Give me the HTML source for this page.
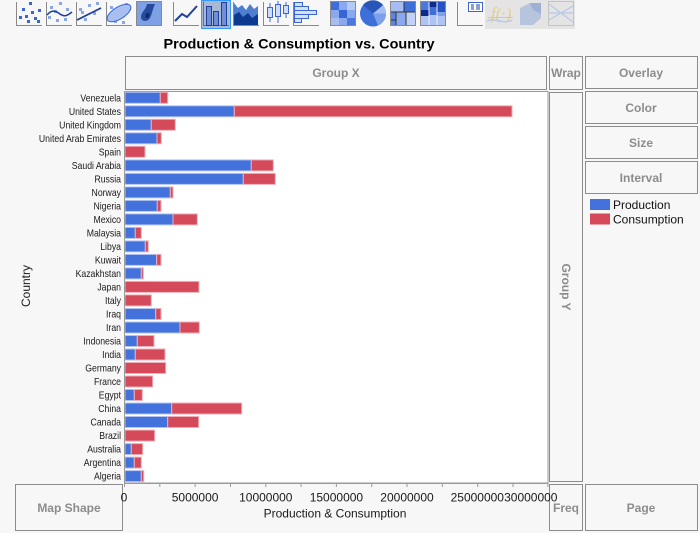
<!DOCTYPE html>
<html><head><meta charset="utf-8"><style>
html,body{margin:0;padding:0;background:#f7f7f7;}
svg{display:block;font-family:"Liberation Sans",Arial,sans-serif;}
</style></head><body>
<svg width="700" height="533" viewBox="0 0 700 533" xmlns="http://www.w3.org/2000/svg">
<rect width="700" height="533" fill="#f7f7f7"/>

<!-- Toolbar -->
<g stroke="#8a8a8a" stroke-width="1" fill="none">
<path d="M16.5 2V25.5H42"/><path d="M46.5 2V25.5H72"/><path d="M76.5 2V25.5H102"/><path d="M106.5 2V25.5H132"/>
<path d="M173.5 2V25.5H199"/><path d="M233.5 2V25.5H259"/><path d="M263.5 2V25.5H289"/><path d="M293.5 2V25.5H319"/>
<path d="M457.5 2V25.5H483"/>
</g>
<g fill="#3b66d0">
<rect x="29" y="2" width="3" height="3"/><rect x="22" y="8" width="3" height="3"/><rect x="31" y="11" width="3" height="3"/><rect x="38" y="9" width="3" height="3"/><rect x="25" y="15" width="3" height="3"/><rect x="34" y="17" width="3" height="3"/><rect x="19" y="16" width="3" height="3"/><rect x="27" y="20" width="3" height="3"/><rect x="37" y="20" width="3" height="3"/>
</g>
<g fill="#8aa6e6">
<rect x="59" y="2" width="3" height="3"/><rect x="50" y="6" width="3" height="3"/><rect x="66" y="8" width="3" height="3"/><rect x="48" y="16" width="3" height="3"/><rect x="56" y="19" width="3" height="3"/><rect x="64" y="18" width="3" height="3"/><rect x="54" y="10" width="3" height="3"/>
<rect x="88" y="4" width="3" height="3"/><rect x="81" y="11" width="3" height="3"/><rect x="93" y="12" width="3" height="3"/><rect x="84" y="18" width="3" height="3"/><rect x="96" y="2" width="3" height="3"/><rect x="79" y="8" width="3" height="3"/>
<rect x="110" y="6" width="3" height="3"/><rect x="125" y="3" width="3" height="3"/><rect x="114" y="20" width="3" height="3"/><rect x="122" y="21" width="3" height="3"/>
</g>
<path d="M47 15 C52 9,56 11,60 14 S67 16,72 12" stroke="#1f3f99" stroke-width="1.5" fill="none"/>
<path d="M77 20 L101 8" stroke="#1f3f99" stroke-width="1.8"/>
<ellipse cx="119" cy="13" rx="13.5" ry="6" transform="rotate(-32 119 13)" fill="#a9bff0" stroke="#3b66d0" stroke-width="1"/>
<rect x="136.5" y="1.5" width="25" height="24" fill="#7ea0e4" stroke="#8a8a8a"/>
<path d="M147 4 C146 10,141 12,141 17 C141 22,148 22,150 18 C152 14,153 8,155 4Z" fill="#274a9c"/>
<path d="M147 13 C145 15,145 18,147 18 C149 18,150 15,149 13Z" fill="#0e2a6a"/>
<polyline points="175,21 182,14 187,17 197,6" stroke="#1f3f99" stroke-width="2" fill="none"/>
<rect x="201.5" y="0.5" width="29" height="28" fill="#a9b8d6" stroke="#3399ff"/>
<path d="M203.5 1.5V25.5H229" stroke="#6a6a8a" fill="none"/>
<rect x="206.5" y="6.5" width="5" height="19" fill="#6f8fd6" stroke="#1f3f99"/>
<rect x="213.5" y="11.5" width="5" height="14" fill="#6f8fd6" stroke="#1f3f99"/>
<rect x="221.5" y="2.5" width="5" height="23" fill="#6f8fd6" stroke="#1f3f99"/>
<path d="M234 3 L238 8 L242 5 L246 10 L250 4 L254 9 L258 6 V25 H234Z" fill="#4f7ed0"/>
<path d="M234 15 L239 12 L243 17 L248 13 L252 18 L258 14 V25 H234Z" fill="#0b3a8f"/>
<g stroke="#3b66d0" fill="#cfdcf8">
<rect x="267.5" y="7.5" width="5" height="10"/><rect x="275.5" y="4.5" width="5" height="12"/><rect x="283.5" y="5.5" width="5" height="8"/>
<path d="M270 3V7.5M270 17.5V22M278 1V4.5M278 16.5V23M286 2V5.5M286 13.5V18" fill="none"/>
</g>
<g fill="#d5e0fa" stroke="#3b66d0">
<rect x="294.5" y="2.5" width="8" height="4"/><rect x="294.5" y="6.5" width="14" height="4"/><rect x="294.5" y="10.5" width="22" height="4"/><rect x="294.5" y="14.5" width="14" height="4"/><rect x="294.5" y="18.5" width="7" height="4"/>
</g>
<rect x="330.5" y="1.5" width="25" height="24" fill="#8aa8ee" stroke="#8a8a8a"/>
<rect x="331" y="2" width="8" height="8" fill="#3e6fd8"/><rect x="347" y="2" width="8" height="8" fill="#b6c9f5"/><rect x="339" y="10" width="8" height="8" fill="#3566d2"/><rect x="331" y="18" width="8" height="7" fill="#a6bcf2"/><rect x="347" y="18" width="8" height="7" fill="#4a78dc"/>
<circle cx="373" cy="13.5" r="13" fill="#3c6fd8"/>
<path d="M373 13.5 L386 13.5 A13 13 0 0 1 378 25.5Z" fill="#7ea0ea"/>
<path d="M373 13.5 L383 5 A13 13 0 0 1 386 13.5Z" fill="#a6bff2"/>
<path d="M373 13.5 L363 5 A13 13 0 0 1 383 5Z" fill="#2a55b8"/>
<rect x="390.5" y="1.5" width="25" height="24" fill="#6f96e6" stroke="#8a8a8a"/>
<rect x="391" y="2" width="13" height="10" fill="#a6bcf2"/><rect x="404" y="2" width="11" height="10" fill="#3e6fd8"/><rect x="391" y="12" width="5" height="13" fill="#5a85e0"/><rect x="396" y="12" width="10" height="13" fill="#8aa8ee"/><rect x="406" y="12" width="9" height="13" fill="#c2d2f6"/>
<path d="M391 20H396M391 12H415M404 2V12M396 12V25M406 12V25" stroke="#333" stroke-width="1"/>
<rect x="420.5" y="1.5" width="25" height="24" fill="#b0c4f4" stroke="#8a8a8a"/>
<rect x="421" y="2" width="8" height="8" fill="#4a78dc"/><rect x="421" y="10" width="8" height="6" fill="#0e2a8a"/><rect x="429" y="2" width="8" height="5" fill="#0e2a8a"/><rect x="429" y="7" width="8" height="8" fill="#3e6fd8"/><rect x="437" y="2" width="8" height="10" fill="#2452c4"/><rect x="437" y="12" width="8" height="4" fill="#7ea0ea"/>
<path d="M429 2V25M437 2V25" stroke="#e8eefc" stroke-width="1"/>
<rect x="468.5" y="2.5" width="14" height="9" fill="#fff" stroke="#3b66d0"/>
<path d="M471 5H474M476 5H480M471 7H474M476 7H480M471 9H474M476 9H480" stroke="#1f3f99"/>
<rect x="485" y="0" width="90" height="29" fill="#e4e4e4"/>
<text x="491" y="19" font-family="Liberation Serif,serif" font-style="italic" font-size="17" fill="#e3cf8a">f(·)</text>
<path d="M487 21 C495 17,503 25,512 20" stroke="#b8c8e6" stroke-width="1.5" fill="none"/>
<path d="M488 17.5H513" stroke="#b8c8e6"/>
<path d="M520 8 L530 3 L541 3 L541 18 L533 25 L520 25 Z" fill="#b7c4de"/>
<path d="M530 3 L541 3 L541 14 L533 10 Z" fill="#9fb0d4"/>
<rect x="548.5" y="1.5" width="25" height="24" fill="none" stroke="#c4c4c4"/>
<path d="M549 4 L573 22 M549 20 L573 6 M549 13 L573 13" stroke="#b8c8e6" stroke-width="1.2"/>

<!-- Title -->
<text x="299" y="48.5" font-size="14" font-weight="bold" fill="#000" text-anchor="middle" textLength="271" lengthAdjust="spacingAndGlyphs">Production &amp; Consumption vs. Country</text>

<!-- Drop zones -->
<g fill="#f7f7f7" stroke="#8c8c8c" stroke-width="1">
<rect x="125.5" y="56.5" width="421" height="33"/>
<rect x="549.5" y="56.5" width="33" height="33"/>
<rect x="585.5" y="56.5" width="112" height="32"/>
<rect x="585.5" y="91.5" width="112" height="32"/>
<rect x="585.5" y="126.5" width="112" height="32"/>
<rect x="585.5" y="161.5" width="112" height="32"/>
<rect x="549.5" y="92.5" width="33" height="389"/>
<rect x="15.5" y="484.5" width="107" height="46"/>
<rect x="549.5" y="484.5" width="33" height="46"/>
<rect x="585.5" y="484.5" width="112" height="46"/>
</g>
<g font-size="12" font-weight="bold" fill="#8c8c8c" text-anchor="middle">
<text x="336" y="77">Group X</text>
<text x="566" y="77">Wrap</text>
<text x="641" y="77">Overlay</text>
<text x="641" y="112">Color</text>
<text x="641" y="147">Size</text>
<text x="641" y="182">Interval</text>
<text x="69" y="512">Map Shape</text>
<text x="566" y="512">Freq</text>
<text x="641" y="512">Page</text>
<text transform="translate(562,287) rotate(90)" x="0" y="0">Group Y</text>
</g>

<!-- Legend -->
<rect x="590" y="199" width="20" height="11" fill="#4472dc"/>
<rect x="590" y="213.5" width="20" height="11" fill="#d44a5a"/>
<text x="613" y="209" font-size="12" fill="#111">Production</text>
<text x="613" y="223.5" font-size="12" fill="#111">Consumption</text>

<!-- Plot area -->
<rect x="124.5" y="91.5" width="423.5" height="391.5" fill="#fff" stroke="#9a9a9a" stroke-width="1"/>

<!-- Bars -->
<g stroke-width="1">
<g fill="#4472dc" stroke="#b3c3ef">
<rect x="125" y="92.3" width="35.3" height="11"/>
<rect x="125" y="105.8" width="109.3" height="11"/>
<rect x="125" y="119.3" width="26.3" height="11"/>
<rect x="125" y="132.8" width="32" height="11"/>
<rect x="125" y="159.9" width="126.3" height="11"/>
<rect x="125" y="173.4" width="118.3" height="11"/>
<rect x="125" y="186.9" width="45.3" height="11"/>
<rect x="125" y="200.4" width="32.3" height="11"/>
<rect x="125" y="213.9" width="48" height="11"/>
<rect x="125" y="227.4" width="10.3" height="11"/>
<rect x="125" y="240.9" width="20.3" height="11"/>
<rect x="125" y="254.4" width="31.7" height="11"/>
<rect x="125" y="267.9" width="16.3" height="11"/>
<rect x="125" y="308.5" width="30.7" height="11"/>
<rect x="125" y="322.0" width="55" height="11"/>
<rect x="125" y="335.5" width="12.3" height="11"/>
<rect x="125" y="349.0" width="10.3" height="11"/>
<rect x="125" y="389.5" width="9.3" height="11"/>
<rect x="125" y="403.0" width="46.7" height="11"/>
<rect x="125" y="416.5" width="42.7" height="11"/>
<rect x="125" y="443.6" width="6.3" height="11"/>
<rect x="125" y="457.1" width="9.3" height="11"/>
<rect x="125" y="470.6" width="16.3" height="11"/>
</g>
<g fill="#d44a5a" stroke="#eeb0b8">
<rect x="160.3" y="92.3" width="7.4" height="11"/>
<rect x="234.3" y="105.8" width="277.7" height="11"/>
<rect x="151.3" y="119.3" width="24" height="11"/>
<rect x="157" y="132.8" width="4.3" height="11"/>
<rect x="125" y="146.3" width="20" height="11"/>
<rect x="251.3" y="159.9" width="22" height="11"/>
<rect x="243.3" y="173.4" width="32" height="11"/>
<rect x="170.3" y="186.9" width="2.7" height="11"/>
<rect x="157.3" y="200.4" width="3.7" height="11"/>
<rect x="173" y="213.9" width="24.3" height="11"/>
<rect x="135.3" y="227.4" width="6" height="11"/>
<rect x="145.3" y="240.9" width="3" height="11"/>
<rect x="156.7" y="254.4" width="4.3" height="11"/>
<rect x="141.3" y="267.9" width="2" height="11"/>
<rect x="125" y="281.4" width="74" height="11"/>
<rect x="125" y="294.9" width="26.3" height="11"/>
<rect x="155.7" y="308.5" width="5.3" height="11"/>
<rect x="180" y="322.0" width="19.3" height="11"/>
<rect x="137.3" y="335.5" width="16.7" height="11"/>
<rect x="135.3" y="349.0" width="29.7" height="11"/>
<rect x="125" y="362.5" width="40.7" height="11"/>
<rect x="125" y="376.0" width="27.7" height="11"/>
<rect x="134.3" y="389.5" width="8" height="11"/>
<rect x="171.7" y="403.0" width="70" height="11"/>
<rect x="167.7" y="416.5" width="31" height="11"/>
<rect x="125" y="430.1" width="29.7" height="11"/>
<rect x="131.3" y="443.6" width="11.4" height="11"/>
<rect x="134.3" y="457.1" width="7" height="11"/>
<rect x="141.3" y="470.6" width="2.4" height="11"/>
</g>
</g>

<!-- Axes lines -->
<path d="M124.5 91V487M124 483.5H548" stroke="#9a9a9a" stroke-width="1" fill="none"/>
<g stroke="#9a9a9a" stroke-width="1">
<path d="M159.8 483V487M195.1 483V487M230.5 483V487M265.8 483V487M301.1 483V487M336.4 483V487M371.7 483V487M407 483V487M442.4 483V487M477.7 483V487M513 483V487M548 483V487"/>
</g>

<!-- X tick labels -->
<g font-size="12" fill="#1a1a1a" text-anchor="middle">
<text x="124" y="501.7">0</text>
<text x="195.1" y="501.7">5000000</text>
<text x="265.8" y="501.7">10000000</text>
<text x="336.4" y="501.7">15000000</text>
<text x="407" y="501.7">20000000</text>
<text x="477.3" y="501.7">25000000</text>
<text x="530.8" y="501.7">30000000</text>
</g>
<text x="335" y="517.7" font-size="12" fill="#1a1a1a" text-anchor="middle">Production &amp; Consumption</text>
<text transform="translate(30,286) rotate(-90)" x="0" y="0" font-size="12" fill="#1a1a1a" text-anchor="middle">Country</text>

<!-- Y labels -->
<g transform="translate(121,0) scale(0.87,1)" font-size="10" fill="#1a1a1a" text-anchor="end">
<text x="0" y="101.3">Venezuela</text>
<text x="0" y="114.8">United States</text>
<text x="0" y="128.3">United Kingdom</text>
<text x="0" y="141.8">United Arab Emirates</text>
<text x="0" y="155.3">Spain</text>
<text x="0" y="168.9">Saudi Arabia</text>
<text x="0" y="182.4">Russia</text>
<text x="0" y="195.9">Norway</text>
<text x="0" y="209.4">Nigeria</text>
<text x="0" y="222.9">Mexico</text>
<text x="0" y="236.4">Malaysia</text>
<text x="0" y="249.9">Libya</text>
<text x="0" y="263.4">Kuwait</text>
<text x="0" y="276.9">Kazakhstan</text>
<text x="0" y="290.4">Japan</text>
<text x="0" y="304.0">Italy</text>
<text x="0" y="317.5">Iraq</text>
<text x="0" y="331.0">Iran</text>
<text x="0" y="344.5">Indonesia</text>
<text x="0" y="358.0">India</text>
<text x="0" y="371.5">Germany</text>
<text x="0" y="385.0">France</text>
<text x="0" y="398.5">Egypt</text>
<text x="0" y="412.0">China</text>
<text x="0" y="425.5">Canada</text>
<text x="0" y="439.1">Brazil</text>
<text x="0" y="452.6">Australia</text>
<text x="0" y="466.1">Argentina</text>
<text x="0" y="479.6">Algeria</text>
</g>
</svg>
</body></html>
